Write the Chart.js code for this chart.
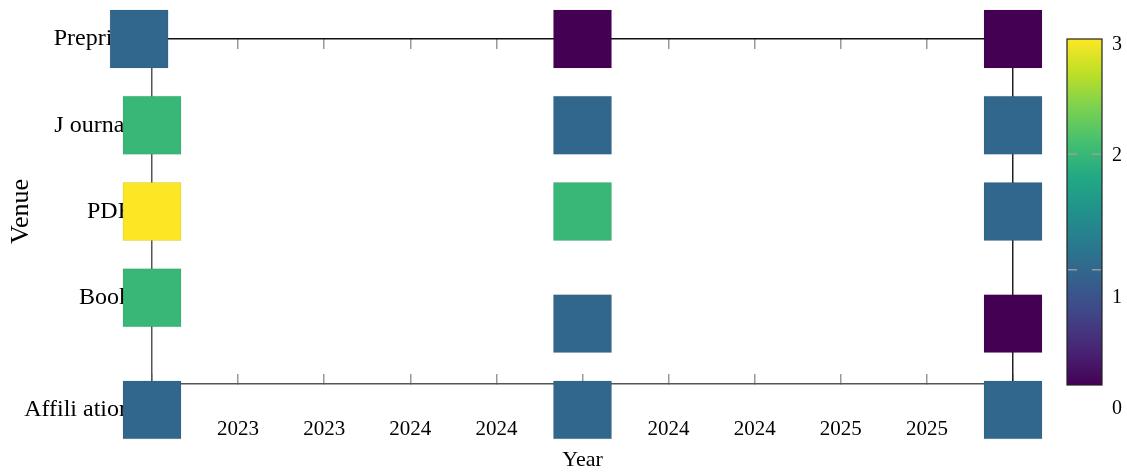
<!DOCTYPE html>
<html>
<head>
<meta charset="utf-8">
<script src="https://cdn.jsdelivr.net/npm/chart.js@4.4.1/dist/chart.umd.min.js"></script>
<style>
  body { margin: 0; background: #fff; }
</style>
</head>
<body>
<canvas id="venueChart" width="1127" height="475"></canvas>
<script>
// venues on the y axis (row value on the y scale)
const venues = ['Preprint', 'J ournal', 'PDF', 'Book', 'Affili ation'];
const venueRows = [4, 3, 2, 1, -0.3];

// x tick range
const yearMin = 2023;
const yearMax = 2025;
const yearStep = 0.2;

// one column per year: x, row, count
const years2023 = [2022.97, 2023, 2023, 2023, 2023];
const rows2023 = [4, 3, 2, 1, -0.3];
const counts2023 = [1, 2, 3, 2, 1];

const years2024 = [2024, 2024, 2024, 2024, 2024];
const rows2024 = [4, 3, 2, 0.7, -0.3];
const counts2024 = [0, 1, 2, 1, 1];

const years2025 = [2025, 2025, 2025, 2025, 2025];
const rows2025 = [4, 3, 2, 0.7, -0.3];
const counts2025 = [0, 1, 1, 0, 1];

// colour bar
const countMax = 3;
const cbTicks = [0, 1, 2, 3];
const cbLabelAt = [-0.21, 0.76, 1.99, 2.95];

const viridisStops = ['#440154', '#482475', '#414487', '#355f8d', '#2a788e', '#21918c',
  '#22a884', '#44bf70', '#7ad151', '#bddf26', '#fde725'];

function hexToRgb(h) {
  return [parseInt(h.slice(1, 3), 16), parseInt(h.slice(3, 5), 16), parseInt(h.slice(5, 7), 16)];
}

function viridis(t) {
  t = Math.max(0, Math.min(1, t));
  const pos = t * (viridisStops.length - 1);
  const i = Math.min(Math.floor(pos), viridisStops.length - 2);
  const f = pos - i;
  const a = hexToRgb(viridisStops[i]);
  const b = hexToRgb(viridisStops[i + 1]);
  const c = a.map((v, k) => Math.round(v + (b[k] - v) * f));
  return `rgb(${c[0]}, ${c[1]}, ${c[2]})`;
}

function makeColumn(xs, rows, counts) {
  return {
    data: xs.map((x, i) => ({ x: x, y: rows[i] })),
    backgroundColor: counts.map(c => viridis(c / countMax)),
    borderColor: 'rgba(0, 0, 0, 0.08)',
    borderWidth: 1,
    pointStyle: 'rect',
    pointRadius: 41,
    pointHoverRadius: 41,
    clip: false
  };
}

const serif = 'Liberation Serif';

const colorbarPlugin = {
  id: 'colorbar',
  afterDraw(chart) {
    const { ctx, chartArea } = chart;
    const left = chartArea.right + 54;
    const w = 35;
    const top = chartArea.top;
    const bottom = chartArea.bottom + 1;
    const yOf = v => bottom - v / countMax * (bottom - top);

    ctx.save();
    const grad = ctx.createLinearGradient(0, bottom, 0, top);
    viridisStops.forEach((c, i) => grad.addColorStop(i / (viridisStops.length - 1), c));
    ctx.fillStyle = grad;
    ctx.fillRect(left, top, w, bottom - top);

    // dashed marks inside the bar
    ctx.strokeStyle = 'rgba(160, 160, 160, 0.9)';
    ctx.lineWidth = 1.5;
    ctx.setLineDash([9, 15]);
    cbTicks.forEach(v => {
      if (v === 0 || v === countMax) return;
      ctx.beginPath();
      ctx.moveTo(left + 1, yOf(v));
      ctx.lineTo(left + w, yOf(v));
      ctx.stroke();
    });
    ctx.setLineDash([]);

    ctx.strokeStyle = '#222';
    ctx.lineWidth = 1.2;
    ctx.strokeRect(left, top, w, bottom - top);

    ctx.fillStyle = '#000';
    ctx.font = `20px "${serif}"`;
    ctx.textAlign = 'left';
    ctx.textBaseline = 'middle';
    cbTicks.forEach((v, i) => {
      ctx.fillText(String(v), left + 45, yOf(cbLabelAt[i]));
    });
    ctx.restore();
  }
};

const ctx = document.getElementById('venueChart').getContext('2d');

new Chart(ctx, {
  type: 'scatter',
  data: {
    datasets: [
      makeColumn(years2023, rows2023, counts2023),
      makeColumn(years2024, rows2024, counts2024),
      makeColumn(years2025, rows2025, counts2025)
    ]
  },
  options: {
    responsive: false,
    animation: false,
    layout: { autoPadding: false, padding: { left: 0, top: 39, right: 114, bottom: 0 } },
    plugins: {
      legend: { display: false },
      tooltip: { enabled: false }
    },
    scales: {
      x: {
        type: 'linear',
        position: 'bottom',
        min: yearMin,
        max: yearMax,
        afterFit: s => { s.height = 91; },
        ticks: {
          stepSize: yearStep,
          autoSkip: false,
          maxRotation: 0,
          padding: 43,
          color: '#000',
          font: { family: serif, size: 21 },
          callback: v => String(Math.round(v))
        },
        grid: { drawOnChartArea: false, drawTicks: true, tickLength: -10, color: '#999', lineWidth: 1.5 },
        border: { display: true, color: '#555', width: 1.5 },
        title: {
          display: true,
          text: 'Year',
          color: '#000',
          font: { family: serif, size: 22 },
          padding: { top: 0, bottom: 2 }
        }
      },
      x2: {
        type: 'linear',
        position: 'top',
        min: yearMin,
        max: yearMax,
        afterFit: s => { s.height = 0; },
        ticks: { display: false, stepSize: yearStep },
        grid: { drawOnChartArea: false, drawTicks: true, tickLength: -10, color: '#999', lineWidth: 1.5 },
        border: { display: true, color: '#111', width: 1.5 }
      },
      y: {
        type: 'linear',
        position: 'left',
        min: 0,
        max: 4,
        afterFit: s => { s.width = 152; },
        afterBuildTicks: s => { s.ticks = venueRows.map(v => ({ value: v })); },
        ticks: {
          padding: 13,
          color: '#000',
          font: { family: serif, size: 24 },
          callback: (v, i) => venues[i]
        },
        grid: { display: false },
        border: { display: true, color: '#555', width: 1.5 },
        title: {
          display: true,
          text: 'Venue',
          color: '#000',
          font: { family: serif, size: 26 },
          padding: { top: 6, bottom: 0 }
        }
      },
      y2: {
        type: 'linear',
        position: 'right',
        min: 0,
        max: 4,
        afterFit: s => { s.width = 0; },
        ticks: { display: false },
        grid: { display: false },
        border: { display: true, color: '#222', width: 1.5 }
      }
    }
  },
  plugins: [colorbarPlugin]
});
</script>
</body>
</html>
